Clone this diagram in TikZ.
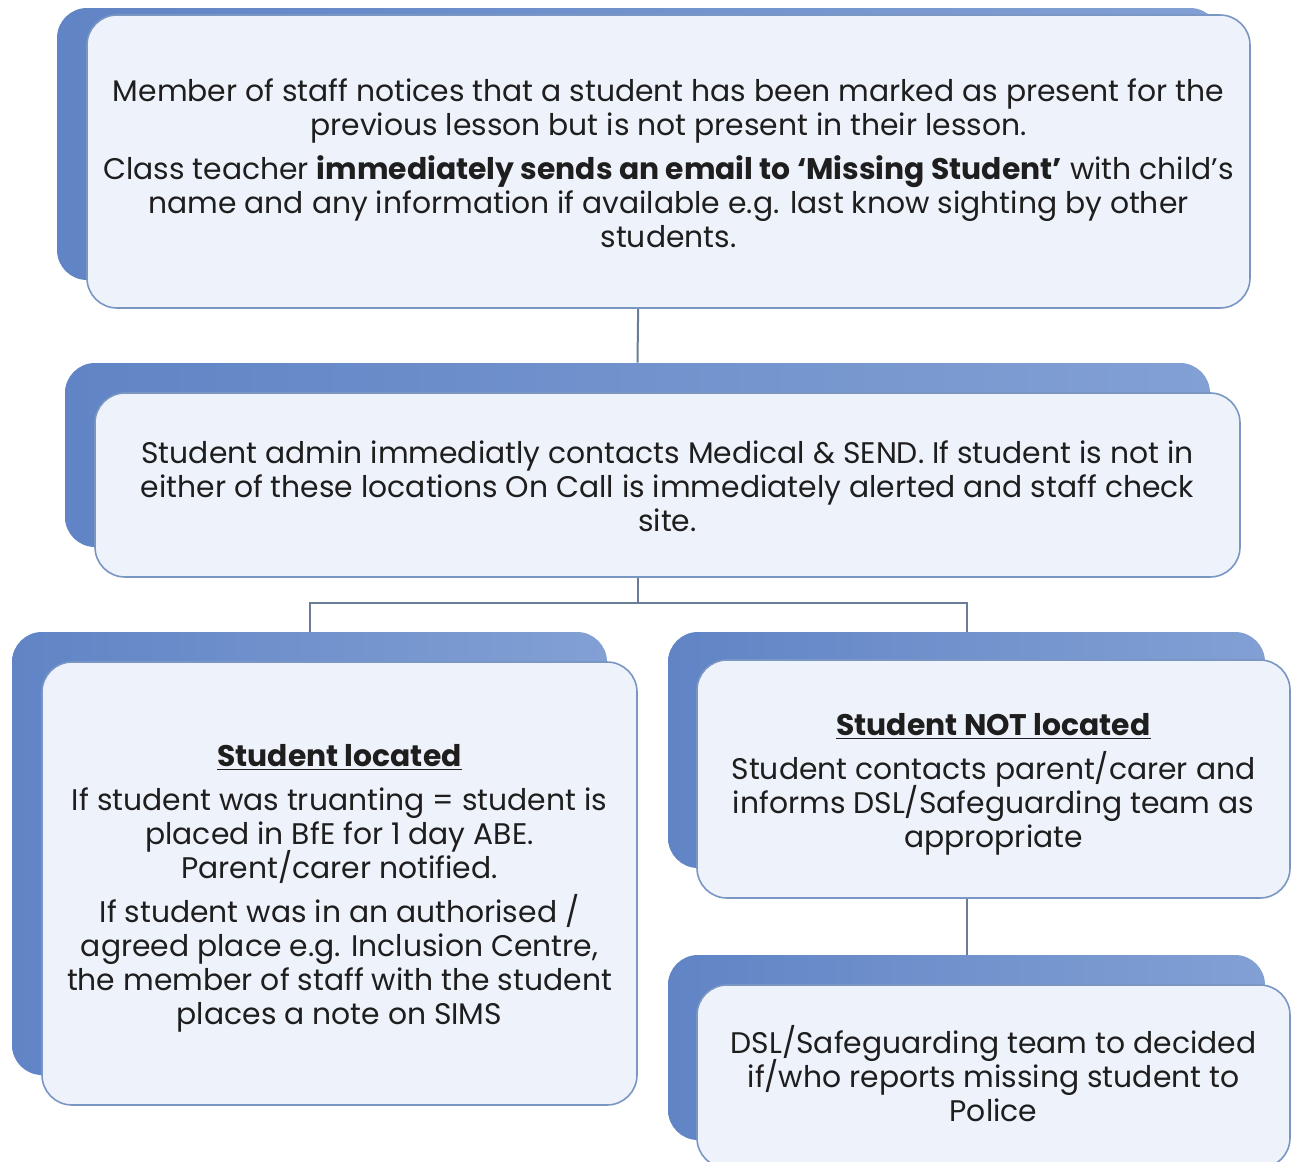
\documentclass[tikz,border=0pt]{standalone}
\usepackage{fontspec}
\setmainfont{Poppins}
\usetikzlibrary{fit,calc}

\definecolor{backdark}{RGB}{96,132,197}
\definecolor{backlight}{RGB}{130,160,212}
\definecolor{frontfill}{RGB}{238,242,250}
\definecolor{frontline}{RGB}{122,150,194}
\definecolor{linkline}{RGB}{105,125,152}
\definecolor{ink}{RGB}{30,30,30}

\newcommand\boxfont{\fontsize{14.9}{17}\selectfont\lineskiplimit=-20pt\relax\lineskip=0pt\relax}

\tikzset{
  backbox/.style={rounded corners=15pt, left color=backdark, right color=backlight, inner sep=0pt},
  frontbox/.style={rounded corners=15pt, draw=frontline, line width=0.8pt, fill=frontfill, inner sep=0pt},
  boxtext/.style={align=center, text=ink, inner sep=0pt, font=\boxfont},
  link/.style={draw=linkline, line width=1pt},
}

\begin{document}
\begin{tikzpicture}[x=0.5pt,y=-0.5pt]

\useasboundingbox (0,0) rectangle (1292,1162);

% blue backing boxes
\node[backbox, fit={(57,8) (1220,280)}] (noticeBk) {};
\node[backbox, fit={(65,363) (1210,547)}] (adminBk) {};
\node[backbox, fit={(12,632) (607,1075)}] (locBk) {};
\node[backbox, fit={(668,632) (1265,868)}] (notlocBk) {};
\node[backbox, fit={(668,955) (1265,1140)}] (policeBk) {};

% connectors
\coordinate (split) at ($(adminBk.south)+(0,56)$);
\draw[link] (noticeBk.south) -- (adminBk.north);
\draw[link] (adminBk.south) -- (split) -| (locBk.north);
\draw[link] (split) -| (notlocBk.north);
\draw[link] (notlocBk.south) -- (policeBk.north);

% pale boxes
\node[frontbox, fit={(87,15) (1250,308)}] (notice) {};
\node[frontbox, fit={(95,393) (1240,577)}] (admin) {};
\node[frontbox, fit={(42,662) (637,1105)}] (loc) {};
\node[frontbox, fit={(697,660) (1290,898)}] (notloc) {};
\node[frontbox, fit={(697,985) (1290,1168)}] (police) {};

% texts
\node[boxtext] (noticeTxt) at ([yshift=-1pt]notice.center)
  {Member of staff notices that a student has been marked as present for the\\
   previous lesson but is not present in their lesson.\\[5pt]
   Class teacher \textbf{immediately sends an email to ‘Missing Student’} with child’s\\
   name and any information if available e.g. last know sighting by other\\
   students.};

\node[boxtext] (adminTxt) at ([yshift=-0.5pt]admin.center)
  {Student admin immediatly contacts Medical \& SEND. If student is not in\\
   either of these locations On Call is immediately alerted and staff check\\
   site.};

\node[boxtext] (locTxt) at ([yshift=-2.5pt]loc.center)
  {\textbf{\underline{Student located}}\\[5pt]
   If student was truanting = student is\\
   placed in BfE for 1 day ABE.\\
   Parent/carer notified.\\[5pt]
   If student was in an authorised /\\
   agreed place e.g. Inclusion Centre,\\
   the member of staff with the student\\
   places a note on SIMS};

\node[boxtext] (notlocTxt) at ([yshift=-2.5pt]notloc.center)
  {\textbf{\underline{Student NOT located}}\\[5pt]
   Student contacts parent/carer and\\
   informs DSL/Safeguarding team as\\
   appropriate};

\node[boxtext] (policeTxt) at ([yshift=1.5pt]police.center)
  {DSL/Safeguarding team to decided\\
   if/who reports missing student to\\
   Police};

\end{tikzpicture}
\end{document}
